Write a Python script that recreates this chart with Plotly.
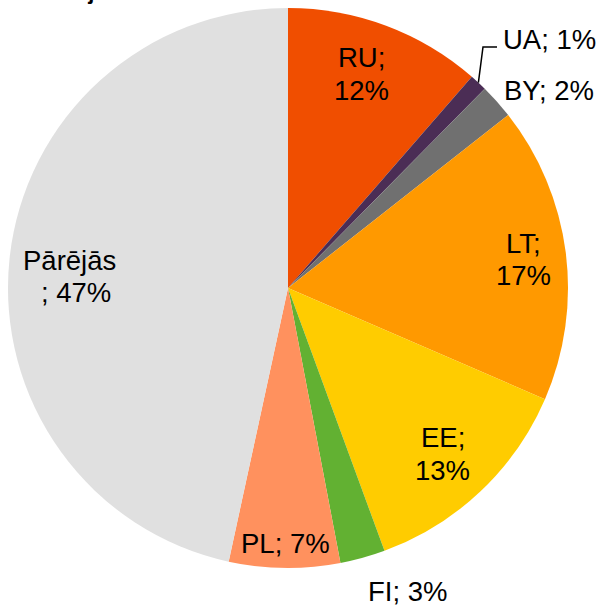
import math
import plotly.graph_objects as go

# ---- data ----
countries = ["RU", "UA", "BY", "LT", "EE", "FI", "PL", "Pārējās"]
shares = [11.4, 1.0, 2.0, 17.1, 12.9, 2.6, 6.4, 46.6]
pct_labels = ["12%", "1%", "2%", "17%", "13%", "3%", "7%", "47%"]
colors = ["#F04E00", "#4B2D55", "#707070", "#FF9900", "#FFCC00", "#62B132", "#FF915E", "#E0E0E0"]
title_text = "Latvija"

W, H = 601, 605
CX, CY, R = 288, 288, 280

fig = go.Figure(go.Pie(
    labels=countries, values=shares, sort=False, direction="clockwise", rotation=0,
    marker=dict(colors=colors, line=dict(width=0)), textinfo="none", hoverinfo="label+percent",
    domain=dict(x=[(CX - R) / W, (CX + R) / W], y=[1 - (CY + R) / H, 1 - (CY - R) / H]),
    showlegend=False,
))

# label placement: (radial factor, angle offset deg, two lines, xanchor)
place = {
    "RU": (0.809, -1.58, True, "center"),
    "UA": (1.168, -2.18, False, "left"),
    "BY": (1.041, -1.02, False, "left"),
    "LT": (0.849, 0.47, True, "center"),
    "EE": (0.811, 0.34, True, "center"),
    "FI": (1.165, -5.92, False, "center"),
    "PL": (0.911, -0.05, False, "center"),
    "Pārējās": (0.780, -3.13, True, "center"),
}
HALF = 16.3

total = sum(shares)
cum = 0.0
annotations = []
font = dict(family="Liberation Sans, Arial, sans-serif", size=27.5, color="#000000")
mids = {}
for name, v, p in zip(countries, shares, pct_labels):
    mid = (cum + v / 2) / total * 360
    mids[name] = mid
    cum += v
    r, off, split, xa = place[name]
    a = math.radians(mid + off)
    px = CX + r * R * math.sin(a)
    py = CY - r * R * math.cos(a)
    if split:
        if name == "Pārējās":
            lines = [(name, px, py - HALF), ("; " + p, px + 6, py + HALF)]
        else:
            lines = [(name + ";", px, py - HALF), (p, px, py + HALF)]
    else:
        lines = [(name + "; " + p, px, py)]
    for t, xx, yy in lines:
        annotations.append(dict(text=t, x=xx / W, y=1 - yy / H, xref="paper", yref="paper",
                                xanchor=xa, yanchor="middle", showarrow=False, font=font))

# leader line for UA
a = math.radians(mids["UA"])
ex, ey = CX + R * math.sin(a), CY - R * math.cos(a)
pts = [(ex, ey), (483, 47), (497, 47)]
path = "M " + " L ".join(f"{x / W},{1 - y / H}" for x, y in pts)
shapes = [dict(type="path", path=path, xref="paper", yref="paper",
               line=dict(color="#000000", width=1.5))]

annotations.append(dict(text="<b>" + title_text + "</b>", x=72 / W, y=1 + 9 / H, xref="paper", yref="paper",
                        xanchor="center", yanchor="middle", showarrow=False,
                        font=dict(family="Liberation Sans, Arial, sans-serif", size=22, color="#000000")))

fig.update_layout(width=W, height=H, margin=dict(l=0, r=0, t=0, b=0),
                  paper_bgcolor="white", plot_bgcolor="white",
                  annotations=annotations, shapes=shapes)
fig.write_html("out.html", config={"displayModeBar": False},
               post_script="document.body.style.margin='0px';")
